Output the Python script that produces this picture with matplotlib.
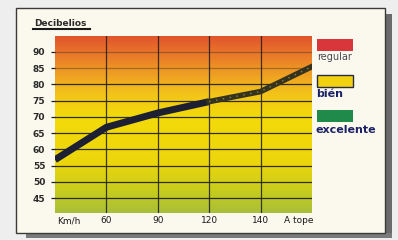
import numpy as np
import matplotlib
matplotlib.use('Agg')
import matplotlib.pyplot as plt
from matplotlib.colors import LinearSegmentedColormap
from matplotlib.patches import Rectangle
from matplotlib.lines import Line2D

# datos
velocidades = ['Km/h', '60', '90', '120', '140', 'A tope']
decibelios = [56.8, 66.8, 71.2, 74.7, 77.8, 85.5]
y_ticks = [45, 50, 55, 60, 65, 70, 75, 80, 85, 90]
leyenda = ['regular', 'bién', 'excelente']
colores_leyenda = ['#d8363a', '#f2d210', '#1f8a4a']

W, H = 398, 240
fig = plt.figure(figsize=(W / 100, H / 100), dpi=100)
fig.patch.set_facecolor('#eeeeee')

def fx(px):
    return px / W

def fy(py):
    return 1 - py / H

# marco con sombra
fig.add_artist(Rectangle((fx(385), fy(238)), fx(7), 224 / H, transform=fig.transFigure,
                         facecolor='#6a6a6a', edgecolor='none', zorder=-3))
fig.add_artist(Rectangle((fx(26), fy(238)), fx(366), 5 / H, transform=fig.transFigure,
                         facecolor='#7a7a7a', edgecolor='none', zorder=-3))
fig.add_artist(Rectangle((fx(16), fy(233)), fx(369), 225 / H, transform=fig.transFigure,
                         facecolor='#fbf9ee', edgecolor='#3a3a3a', linewidth=1, zorder=-2))

ax = fig.add_axes([fx(55), fy(213), fx(257), 177 / H])
ax.set_zorder(2)
ylim = (40.4, 94.9)
xlim = (0, 5)

# fondo degradado
cmap = LinearSegmentedColormap.from_list('fondo', [
    (0.0, '#a9bf3a'), (0.12, '#c6cc1e'), (0.28, '#ecd60c'),
    (0.55, '#f3da0a'), (0.68, '#f2c21a'), (0.80, '#ee9a24'),
    (0.92, '#e8702a'), (1.0, '#e0552c')])
grad = np.linspace(0, 1, 256).reshape(-1, 1)
ax.imshow(grad, cmap=cmap, aspect='auto', origin='lower',
          extent=[xlim[0], xlim[1], ylim[0], ylim[1]], zorder=0)

for v in y_ticks:
    a = 0.35 if v >= 85 else 0.9
    ax.axhline(v, color='#1c1c1c', lw=0.9, alpha=a, zorder=1)
for i in range(1, 5):
    ax.axvline(i, color='#1c1c1c', lw=0.9, alpha=0.85, zorder=1)

x = np.arange(len(velocidades))
ax.plot(x[:4], decibelios[:4], color='#1d2033', lw=5, solid_capstyle='butt', zorder=3)
ax.plot(x[3:], decibelios[3:], color='#35331e', lw=4, zorder=3)
ax.plot(x[3:], decibelios[3:], color='#8a8440', lw=1, ls=(0, (1, 4)), zorder=4)

ax.set_xlim(*xlim)
ax.set_ylim(*ylim)
ax.set_yticks(y_ticks)
ax.set_yticklabels([str(v) for v in y_ticks], fontsize=6.5, color='#2a2a2a',
                   fontweight='bold', family='DejaVu Sans')
ax.set_xticks([])
ax.tick_params(axis='y', length=3, width=0.9, color='#1c1c1c', pad=4)
for s in ax.spines.values():
    s.set_visible(False)

for i, lab in enumerate(velocidades):
    if i == 0:
        xp, ha = 0.05, 'left'
    elif i == len(velocidades) - 1:
        xp, ha = 4.75, 'center'
    else:
        xp, ha = i, 'center'
    ax.text(xp, 38.0, lab, ha=ha, va='center', fontsize=6.5, color='#1a1a1a', clip_on=False)

# título subrayado
fig.text(fx(34), fy(23), 'Decibelios', fontsize=6.5, fontweight='bold',
         color='#2a2a2a', va='center', ha='left')
fig.add_artist(Line2D([fx(33), fx(90)], [fy(29), fy(29)], transform=fig.transFigure,
                      color='#1a1a1a', lw=1.5))

# leyenda
patch_y = [39, 75, 110]
texto_y = [57, 94, 130]
for lab, col, py, ty in zip(leyenda, colores_leyenda, patch_y, texto_y):
    ec = '#2a2a40' if lab == 'bién' else 'none'
    fig.add_artist(Rectangle((fx(317), fy(py + 12)), fx(36), 12 / H, transform=fig.transFigure,
                             facecolor=col, edgecolor=ec, linewidth=1))
    if lab == 'regular':
        fig.text(fx(317), fy(ty), lab, fontsize=7, color='#4a4a55', va='center', ha='left')
    else:
        fig.text(fx(316), fy(ty), lab, fontsize=8, fontweight='bold', color='#1c2266',
                 va='center', ha='left')

fig.savefig('out.png', dpi=100, facecolor=fig.get_facecolor())
